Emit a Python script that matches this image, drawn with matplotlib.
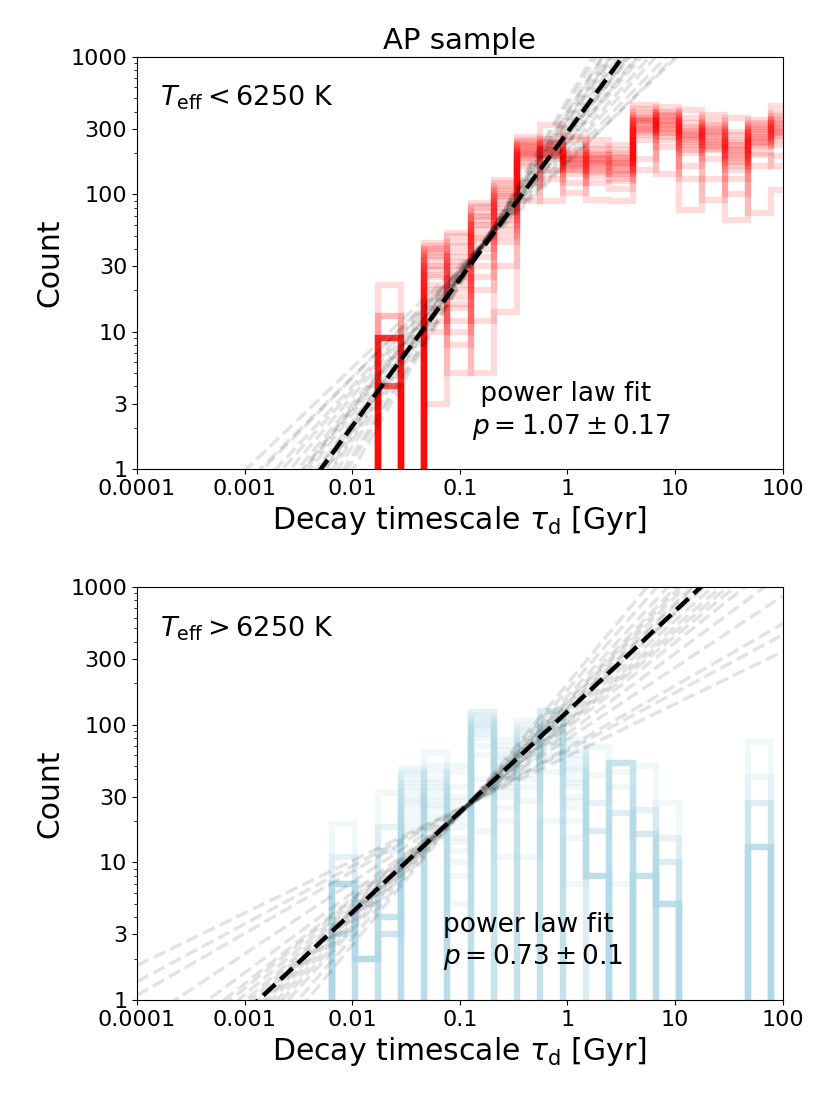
import numpy as np
import matplotlib
matplotlib.use('Agg')
import matplotlib.pyplot as plt

#--------Data--------#
# log10 of the decay timescale bin edges [Gyr]
log_bin_edges = [-2.19, -1.975, -1.76, -1.545, -1.33, -1.115, -0.90, -0.685, -0.47, -0.255,
                 -0.04, 0.175, 0.39, 0.605, 0.82, 1.035, 1.25, 1.465, 1.68, 1.895, 2.11]

# counts per bin for each resampled histogram (one inner list per bin, 20 draws)
cool_counts = [
    [0] * 20,
    [0] * 20,
    [9, 4, 9, 9, 4, 13, 9, 4, 9, 22, 9, 4, 9, 0, 4, 9, 13, 4, 9, 9],
    [0] * 20,
    [40, 44, 30, 22, 38, 15, 26, 35, 10, 42, 18, 30, 3, 25, 36, 12, 28, 40, 20, 33],
    [30, 50, 22, 12, 42, 8, 35, 18, 25, 52, 5, 28, 15, 38, 20, 45, 10, 32, 24, 16],
    [70, 45, 87, 30, 60, 20, 80, 50, 12, 65, 40, 75, 5, 55, 35, 82, 25, 60, 48, 68],
    [100, 70, 128, 55, 90, 45, 115, 80, 14, 95, 60, 120, 30, 85, 105, 65, 110, 50, 75, 98],
    [200, 230, 180, 263, 210, 190, 220, 250, 90, 205, 160, 215, 195, 240, 185, 120, 225, 200, 170, 235],
    [215, 200, 235, 190, 320, 210, 180, 225, 200, 89, 240, 195, 215, 255, 150, 205, 230, 130, 195, 220],
    [180, 160, 200, 150, 250, 170, 120, 195, 165, 263, 150, 185, 140, 175, 210, 102, 165, 190, 155, 180],
    [170, 195, 150, 215, 120, 185, 165, 249, 145, 180, 91, 200, 160, 175, 135, 195, 165, 225, 150, 180],
    [160, 185, 140, 200, 110, 170, 150, 230, 130, 165, 90, 190, 145, 175, 125, 185, 155, 210, 140, 170],
    [340, 300, 400, 280, 447, 320, 360, 180, 380, 290, 330, 150, 350, 310, 270, 420, 300, 340, 250, 360],
    [320, 380, 290, 430, 260, 350, 310, 400, 220, 340, 280, 360, 140, 320, 390, 280, 335, 300, 250, 370],
    [270, 230, 330, 210, 410, 160, 290, 250, 77, 260, 310, 220, 255, 360, 130, 280, 240, 300, 200, 270],
    [260, 300, 220, 380, 180, 285, 240, 91, 320, 230, 275, 210, 340, 250, 130, 290, 235, 265, 215, 310],
    [195, 225, 170, 270, 130, 210, 185, 360, 65, 240, 150, 205, 285, 175, 100, 230, 190, 215, 160, 250],
    [265, 300, 240, 350, 200, 285, 255, 73, 320, 225, 275, 245, 160, 295, 235, 330, 195, 260, 220, 310],
    [305, 270, 370, 230, 440, 290, 330, 108, 350, 250, 280, 315, 190, 390, 260, 300, 160, 325, 285, 355],
]

hot_counts = [
    [7, 7, 3, 7, 0, 7, 11, 7, 3, 0, 7, 19, 7, 3, 7, 0, 7, 11, 3, 7],
    [2, 0, 2, 5, 2, 2, 0, 2, 7, 2, 0, 2, 2, 5, 0, 2, 2, 0, 5, 2],
    [4, 3, 0, 4, 18, 3, 4, 0, 12, 3, 4, 32, 0, 3, 4, 18, 3, 0, 4, 12],
    [30, 0, 40, 22, 17, 48, 0, 28, 35, 20, 0, 44, 25, 33, 18, 0, 38, 27, 45, 0],
    [0, 30, 20, 45, 0, 25, 62, 18, 0, 35, 28, 40, 15, 0, 33, 22, 50, 0, 26, 38],
    [20, 12, 0, 30, 8, 45, 15, 0, 25, 5, 18, 0, 35, 10, 22, 50, 0, 14, 28, 0],
    [110, 90, 124, 0, 100, 40, 118, 80, 17, 105, 0, 95, 70, 124, 60, 0, 112, 85, 30, 100],
    [50, 35, 70, 25, 0, 78, 40, 11, 55, 30, 45, 65, 0, 20, 60, 42, 0, 33, 58, 48],
    [70, 0, 95, 35, 80, 107, 60, 11, 0, 45, 75, 55, 90, 0, 40, 65, 100, 28, 0, 85],
    [100, 80, 126, 60, 0, 45, 90, 120, 20, 70, 105, 0, 85, 126, 110, 55, 0, 95, 126, 75],
    [40, 25, 0, 60, 15, 50, 78, 30, 7, 0, 45, 35, 55, 20, 0, 65, 28, 48, 0, 38],
    [8, 17, 0, 8, 27, 0, 8, 43, 17, 8, 0, 69, 8, 17, 0, 8, 27, 8, 0, 8],
    [0, 53, 23, 0, 53, 7, 0, 35, 0, 53, 23, 0, 53, 0, 45, 0, 53, 23, 53, 0],
    [8, 0, 16, 24, 0, 8, 16, 0, 8, 50, 0, 8, 16, 8, 0, 24, 0, 8, 16, 8],
    [5, 10, 0, 5, 15, 0, 5, 10, 5, 0, 27, 5, 0, 15, 5, 10, 0, 5, 0, 5],
    [0] * 20,
    [0] * 20,
    [0] * 20,
    [13, 0, 27, 13, 0, 42, 13, 0, 13, 27, 0, 13, 75, 0, 13, 27, 0, 13, 0, 13],
    [0] * 20,
]

# power law fits: count = N_pivot * (tau / tau_pivot)**p
cool_fit = dict(p=1.07, p_err=0.17, tau_pivot=0.3, n_pivot=78)
cool_draw_p = [1.07, 0.95, 1.18, 1.02, 1.25, 0.88, 1.12, 0.99, 1.30, 0.80,
               1.05, 1.15, 0.92, 1.22, 1.09, 0.75, 1.00, 1.35, 0.97, 1.13, 0.78, 0.85]
cool_draw_n = [82, 76, 90, 80, 88, 74, 86, 81, 94, 70, 79, 87, 77, 92, 83, 70, 80, 96, 75, 89, 66, 72]

hot_fit = dict(p=0.73, p_err=0.1, tau_pivot=0.2, n_pivot=38.5)
hot_draw_p = [0.73, 0.68, 0.78, 0.62, 0.85, 0.70, 0.75, 0.80, 0.66, 0.90,
              0.72, 0.58, 0.95, 0.76, 0.38, 0.45, 0.52, 0.42, 0.64, 0.82]
hot_draw_n = [38, 36, 40, 35, 41, 37, 39, 40, 36, 42, 38, 34, 43, 39, 32, 33, 34, 33, 36, 40]

x_ticks = [1e-4, 1e-3, 1e-2, 1e-1, 1, 10, 100]
x_ticklabels = ['0.0001', '0.001', '0.01', '0.1', '1', '10', '100']
y_ticks = [1, 3, 10, 30, 100, 300, 1000]
y_ticklabels = ['1', '3', '10', '30', '100', '300', '1000']
#--------------------#

edges = 10 ** np.array(log_bin_edges)
tau_line = np.logspace(-4, 2, 60)

fig = plt.figure(figsize=(8.3, 11.07), dpi=100)
ax1 = fig.add_axes([0.165, 0.5763, 0.778, 0.3722])
ax2 = fig.add_axes([0.165, 0.0967, 0.778, 0.3730])


def draw_panel(ax, counts, color, alpha, fit, draw_p, draw_n, label, fit_text, text_x):
    counts = np.array(counts, dtype=float).T
    for row in counts:
        ax.stairs(np.maximum(row, 0.1), edges, baseline=0.1, color=color,
                  lw=4.5, alpha=alpha)
    for p, n in zip(draw_p, draw_n):
        ax.plot(tau_line, n * (tau_line / fit['tau_pivot']) ** p, '--',
                color='k', alpha=0.11, lw=2.5)
    ax.plot(tau_line, fit['n_pivot'] * (tau_line / fit['tau_pivot']) ** fit['p'],
            '--', color='k', lw=3.2)
    ax.set_xscale('log')
    ax.set_yscale('log')
    ax.set_xlim(1e-4, 100)
    ax.set_ylim(1, 1000)
    ax.set_xticks(x_ticks, x_ticklabels)
    ax.xaxis.set_minor_locator(matplotlib.ticker.NullLocator())
    ax.set_yticks(y_ticks, y_ticklabels)
    ax.yaxis.set_minor_formatter(matplotlib.ticker.NullFormatter())
    ax.tick_params(labelsize=16)
    ax.set_xlabel(r'Decay timescale $\tau_{\rm d}$ [Gyr]', fontsize=21.5)
    ax.set_ylabel('Count', fontsize=21.5)
    ax.text(0.035, 0.9, label, transform=ax.transAxes, fontsize=19.5, va='center')
    ax.text(text_x, 0.14, fit_text, transform=ax.transAxes, fontsize=19,
            va='center', ha='left', linespacing=1.2)


draw_panel(ax1, cool_counts, 'red', 0.14, cool_fit, cool_draw_p, cool_draw_n,
           r'$T_{\rm eff} < 6250$ K',
           ' power law fit\n$p = %.2f \\pm %.2f$' % (cool_fit['p'], cool_fit['p_err']), 0.519)
draw_panel(ax2, hot_counts, 'lightblue', 0.16, hot_fit, hot_draw_p, hot_draw_n,
           r'$T_{\rm eff} > 6250$ K',
           'power law fit\n$p = %.2f \\pm %.1f$' % (hot_fit['p'], hot_fit['p_err']), 0.474)
ax1.set_title('AP sample', fontsize=21)

fig.savefig('out.png', dpi=100)
